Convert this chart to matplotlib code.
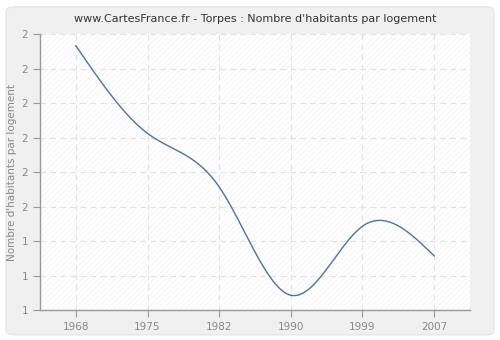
import numpy as np
import matplotlib.pyplot as plt
from matplotlib.patches import FancyBboxPatch, Rectangle

years = ["1968", "1975", "1982", "1990", "1999", "2007"]
values = [1.966, 1.712, 1.557, 1.243, 1.443, 1.357]
yticks = [1.2, 1.3, 1.4, 1.5, 1.6, 1.7, 1.8, 1.9, 2.0]


def natural_spline(x, y, n=400):
    # courbe lissée (spline cubique naturelle) pour le tracé
    x = np.asarray(x, float)
    y = np.asarray(y, float)
    k = len(x)
    h = np.diff(x)
    A = np.zeros((k, k))
    r = np.zeros(k)
    A[0, 0] = A[-1, -1] = 1
    for i in range(1, k - 1):
        A[i, i - 1] = h[i - 1]
        A[i, i] = 2 * (h[i - 1] + h[i])
        A[i, i + 1] = h[i]
        r[i] = 6 * ((y[i + 1] - y[i]) / h[i] - (y[i] - y[i - 1]) / h[i - 1])
    M = np.linalg.solve(A, r)
    xs = np.linspace(x[0], x[-1], n)
    ys = np.empty_like(xs)
    for j, t in enumerate(xs):
        i = min(np.searchsorted(x, t, side='right') - 1, k - 2)
        a = x[i + 1] - t
        b = t - x[i]
        ys[j] = (M[i] * a**3 + M[i + 1] * b**3) / (6 * h[i]) \
            + (y[i] / h[i] - M[i] * h[i] / 6) * a \
            + (y[i + 1] / h[i] - M[i + 1] * h[i] / 6) * b
    return xs, ys


plt.rcParams['hatch.linewidth'] = 0.4

fig = plt.figure(figsize=(5, 3.4), dpi=100)
fig.patch.set_facecolor('#ffffff')
fig.patches.append(FancyBboxPatch((0.012, 0.015), 0.976, 0.965, boxstyle='round,pad=0,rounding_size=0.015',
                                  transform=fig.transFigure, facecolor='#f0f0f0', edgecolor='#e4e4e4',
                                  linewidth=0.8, zorder=-10))

ax = fig.add_axes([0.08, 0.088, 0.86, 0.812])
ax.set_facecolor('#ffffff')
ax.add_patch(Rectangle((0, 0), 1, 1, transform=ax.transAxes, facecolor='#ffffff',
                       edgecolor='#efefef', hatch='//////', linewidth=0, zorder=0))

pos = np.arange(len(years))
xs, ys = natural_spline(pos, values)
ax.plot(xs, ys, color='#4a74a8', linewidth=1.0, zorder=3)

ax.set_xlim(-0.5, len(years) - 0.5)
ax.set_ylim(1.2, 2.0)
ax.set_xticks(pos)
ax.set_xticklabels(years)
ax.set_yticks(yticks)
ax.set_yticklabels([str(int(v + 0.5)) for v in yticks])

ax.grid(True, color='#e2e2e2', linestyle=(0, (5, 4)), linewidth=0.8, zorder=1)
ax.set_axisbelow(True)
for s in ['top', 'right']:
    ax.spines[s].set_visible(False)
for s in ['left', 'bottom']:
    ax.spines[s].set_color('#999999')
    ax.spines[s].set_linewidth(1)
ax.tick_params(colors='#999999', labelcolor='#888888', labelsize=7.5, length=5, width=0.8)

ax.set_ylabel("Nombre d'habitants par logement", color='#888888', fontsize=7.5, labelpad=3)
ax.set_title("www.CartesFrance.fr - Torpes : Nombre d'habitants par logement",
             fontsize=8, color='#333333', pad=9)

fig.savefig('out.png', dpi=100)
